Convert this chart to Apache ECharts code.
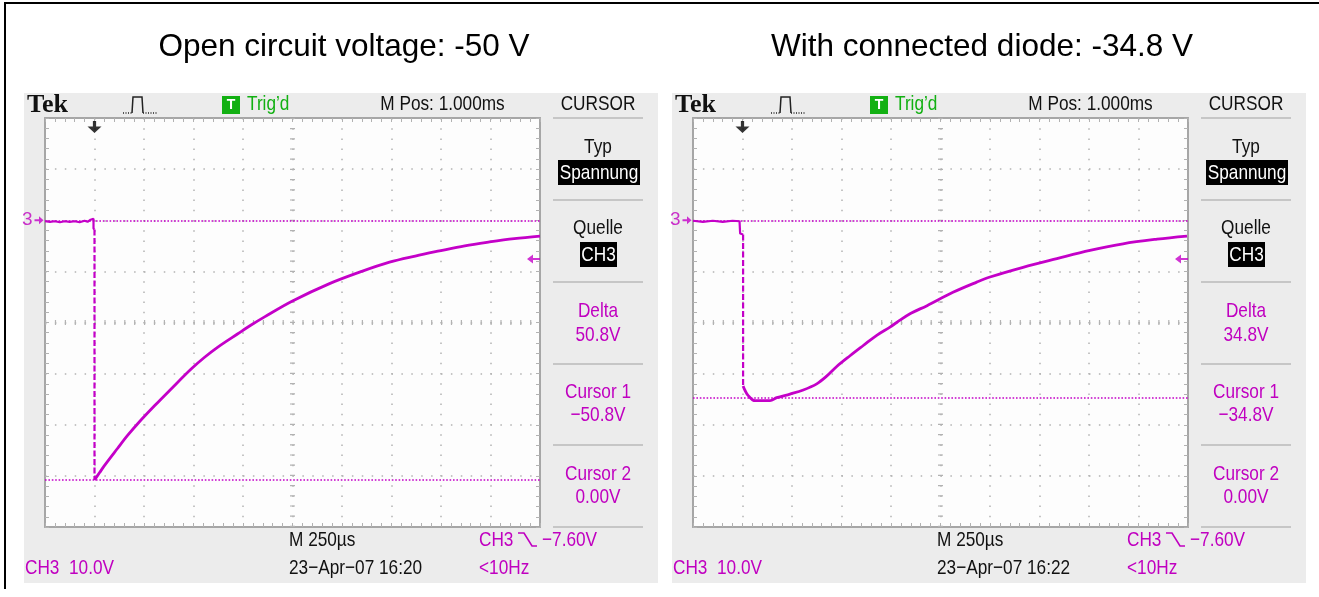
<!DOCTYPE html>
<html><head><meta charset="utf-8">
<script src="https://cdn.jsdelivr.net/npm/echarts/dist/echarts.min.js"></script>
<style>html,body{margin:0;padding:0;background:#fff}#c{width:1319px;height:597px}</style>
</head><body><div id="c"></div>
<script>
// ---------- data ----------
const titles = ['Open circuit voltage: -50 V', 'With connected diode: -34.8 V'];
const xMin = -250, xMax = 2250, xStep = 250;     // time, µs (M 250µs / div)
const yMin = -60, yMax = 20, yStep = 10;         // volts (CH3 10.0V / div)
const xCenter = 1000, yCenter = -20;
const groundLevel = 0, triggerTime = 0, triggerLevel = -7.6;

const leftPre = [[-250,-0.2],[-225,-0.3],[-200,-0.2],[-175,-0.4],[-150,-0.2],[-125,-0.3],[-100,-0.2],[-75,-0.4],[-50,-0.1],[-35,-0.3],[-20,0.1],[-10,0.3],[-5,0.3],[-5,-1.6],[0,-1.8]];
const leftDrop = [[0,-1.8],[0,-50.8]];
const leftDecay = [[0,-50.8],[25,-49.4],[50,-48.0],[117,-44.6],[167,-42.1],[218,-39.8],[303,-36.3],[387,-33.0],[488,-29.1],[556,-26.8],[623,-24.8],[724,-22.2],[791,-20.5],[859,-18.9],[1000,-15.8],[1187,-12.4],[1350,-10.0],[1490,-8.2],[1620,-7.0],[1742,-6.0],[1870,-5.0],[1995,-4.25],[2120,-3.6],[2250,-3.1]];
const leftCursors = [0, -50.8];

const rightPre = [[-250,-0.1],[-200,-0.3],[-150,-0.1],[-100,-0.3],[-50,-0.1],[-15,-0.2],[-12,-2.6],[3,-2.8]];
const rightDrop = [[3,-2.8],[3,-32.4]];
const rightDecay = [[3,-32.4],[13,-33.3],[29,-34.3],[63,-35.3],[139,-35.3],[173,-34.7],[240,-34.0],[307,-33.2],[375,-32.0],[425,-30.5],[476,-28.6],[543,-26.5],[610,-24.5],[678,-22.5],[745,-20.9],[779,-20.0],[846,-18.3],[932,-16.7],[1063,-14.1],[1183,-12.1],[1250,-11.1],[1417,-9.2],[1588,-7.5],[1755,-5.9],[1922,-4.6],[2094,-3.7],[2245,-3.1]];
const rightCursors = [0, -34.8];

const menuLabels = ['CURSOR', 'Typ', 'Spannung', 'Quelle', 'CH3', 'Delta', 'Cursor 1', 'Cursor 2'];
const leftReadout = ['50.8V', '\u221250.8V', '0.00V', '23\u2212Apr\u221207 16:20'];
const rightReadout = ['34.8V', '\u221234.8V', '0.00V', '23\u2212Apr\u221207 16:22'];
const statusTexts = ['Tek', 'Trig\u2019d', 'M Pos: 1.000ms', 'M 250\u00b5s', 'CH3', '\u22127.60V', '<10Hz', 'CH3  10.0V', '3'];

// ---------- styling ----------
const MAG = '#c400c8';
const TMAG = '#c000c0';
const GREEN = '#12b012';
const GRID = '#b2b2b2';
const SANS = '"Liberation Sans",Arial,sans-serif';
const NARROW_SX = 0.82;

const chart = echarts.init(document.getElementById('c'), null, {renderer: 'canvas'});

const grids = [0, 648].map(dx => ({left: 45 + dx, top: 118, width: 495, height: 409, show: true,
  backgroundColor: '#fdfdfd', borderWidth: 0, outerBoundsMode: 'none', containLabel: false}));

function axisCommon(split, period) {
  return {
    axisLine: {show: true, onZero: false, lineStyle: {color: '#a6a6a6', width: 2}},
    axisTick: {show: true, inside: true, length: 4, lineStyle: {color: GRID, width: 1}},
    minorTick: {show: true, splitNumber: 5, length: 4, lineStyle: {color: GRID, width: 1}},
    axisLabel: {show: false},
    splitLine: {show: split, lineStyle: {color: GRID, width: 1.5, type: [1.5, period - 1.5]}},
    minorSplitLine: {show: false}
  };
}
const xAxes = [], yAxes = [];
[0, 1].forEach(g => {
  ['bottom', 'top'].forEach((pos, i) => xAxes.push(Object.assign({gridIndex: g, type: 'value', position: pos,
    min: xMin, max: xMax, interval: xStep}, axisCommon(i === 0, 10.2))));
  ['left', 'right'].forEach((pos, i) => yAxes.push(Object.assign({gridIndex: g, type: 'value', position: pos,
    min: yMin, max: yMax, interval: yStep}, axisCommon(i === 0, 9.9))));
});

function panelSeries(g, pre, drop, decay, cursors) {
  const xi = g * 2, yi = g * 2;
  const base = {type: 'line', xAxisIndex: xi, yAxisIndex: yi, showSymbol: false, symbol: 'none',
    animation: false, silent: true, color: MAG};
  return [
    Object.assign({}, base, {data: pre, z: 5, lineStyle: {color: MAG, width: 2.2},
      markLine: {silent: true, symbol: ['none', 'none'], animation: false, label: {show: false},
        data: [
          {yAxis: yCenter, lineStyle: {color: GRID, width: 5, type: [1.2, 8.7]}},
          {xAxis: xCenter, lineStyle: {color: GRID, width: 5, type: [1.2, 9.0]}},
          ...cursors.map(v => ({yAxis: v, lineStyle: {color: MAG, width: 1.6, type: [1.6, 1.8]}}))
        ]}}),
    Object.assign({}, base, {data: drop, z: 5, lineStyle: {color: MAG, width: 2.2, type: [6, 2.5]}}),
    Object.assign({}, base, {data: decay, z: 6, smooth: 0.35, lineStyle: {color: MAG, width: 2.8}}),
    {type: 'scatter', xAxisIndex: xi, yAxisIndex: yi, clip: false, animation: false, silent: true, z: 10,
      data: [
        {value: [xMin, groundLevel], symbol: 'path://M0,3 L5,3 L5,0 L10,4 L5,8 L5,5 L0,5 Z', symbolSize: [9, 8],
          symbolOffset: [-6, 0], itemStyle: {color: MAG},
          label: {show: true, formatter: statusTexts[8], position: 'left', distance: 2, color: TMAG, fontSize: 19, fontFamily: SANS}},
        {value: [triggerTime, yMax], symbol: 'path://M5,0 L8,0 L8,5 L13,5 L6.5,11 L0,5 L5,5 Z', symbolSize: [14, 12],
          symbolOffset: [0, 9], itemStyle: {color: '#000'}},
        {value: [xMax, triggerLevel], symbol: 'path://M0,4.5 L6,0 L6,3.5 L13,3.5 L13,5.5 L6,5.5 L6,9 Z', symbolSize: [13, 9],
          symbolOffset: [-6.5, 0], itemStyle: {color: MAG}}
      ]}
  ];
}

function txt(x, y, text, opts) {
  const o = Object.assign({fontSize: 21, fontFamily: SANS, fill: '#111', align: 'center', sx: NARROW_SX}, opts || {});
  return {type: 'text', x: x, y: y, z: 20, silent: true, scaleX: o.sx, scaleY: 1,
    style: {text: text, fontSize: o.fontSize, fontFamily: o.fontFamily, fontWeight: o.fontWeight || 'normal',
      fill: o.fill, align: o.align, textAlign: o.align, verticalAlign: 'middle', textVerticalAlign: 'middle'}};
}
function line(points, color, width, dash) {
  return {type: 'polyline', z: 20, silent: true, shape: {points: points},
    style: {stroke: color, lineWidth: width, fill: null, lineDash: dash || null}};
}

function panelGraphics(dx, readout) {
  const g = [];
  g.push({type: 'rect', z: -10, silent: true, shape: {x: 24 + dx, y: 93, width: 634, height: 490}, style: {fill: '#ececec'}});
  g.push(txt(27 + dx, 105, statusTexts[0], {fontFamily: '"Liberation Serif","DejaVu Serif",serif', fontWeight: 'bold', fontSize: 26, align: 'left', fill: '#111', sx: 1}));
  // acquisition icon
  g.push(line([[123 + dx, 113], [132 + dx, 113]], '#222', 1.3, [1, 1.5]));
  g.push(line([[132 + dx, 113], [133 + dx, 97], [142 + dx, 97], [143 + dx, 113]], '#222', 1.5));
  g.push(line([[143 + dx, 113], [158 + dx, 113]], '#222', 1.3, [1, 1.5]));
  // trigger status
  g.push({type: 'rect', z: 20, silent: true, shape: {x: 222 + dx, y: 96, width: 18, height: 18}, style: {fill: GREEN}});
  g.push(txt(231 + dx, 105.5, 'T', {fill: '#fff', fontWeight: 'bold', fontSize: 14, sx: 1}));
  g.push(txt(247 + dx, 104, statusTexts[1], {fill: GREEN, align: 'left'}));
  g.push(txt(442.5 + dx, 104, statusTexts[2]));
  // cursor menu
  g.push(txt(598 + dx, 104, menuLabels[0]));
  [118, 200, 282, 364, 445, 527].forEach(y => g.push(line([[553 + dx, y], [643 + dx, y]], '#c6c6c6', 2)));
  g.push(txt(598 + dx, 147, menuLabels[1]));
  g.push({type: 'rect', z: 19, silent: true, shape: {x: 558 + dx, y: 160, width: 82, height: 25}, style: {fill: '#000'}});
  g.push(txt(599 + dx, 173, menuLabels[2], {fill: '#fff'}));
  g.push(txt(598 + dx, 228, menuLabels[3]));
  g.push({type: 'rect', z: 19, silent: true, shape: {x: 580 + dx, y: 242, width: 37, height: 25}, style: {fill: '#000'}});
  g.push(txt(598.5 + dx, 255, menuLabels[4], {fill: '#fff'}));
  g.push(txt(598 + dx, 311, menuLabels[5], {fill: TMAG}));
  g.push(txt(598 + dx, 335.5, readout[0], {fill: TMAG}));
  g.push(txt(598 + dx, 392.5, menuLabels[6], {fill: TMAG}));
  g.push(txt(598 + dx, 415.5, readout[1], {fill: TMAG}));
  g.push(txt(598 + dx, 474, menuLabels[7], {fill: TMAG}));
  g.push(txt(598 + dx, 497.5, readout[2], {fill: TMAG}));
  // bottom status line
  g.push(txt(289 + dx, 540, statusTexts[3], {align: 'left'}));
  g.push(txt(289 + dx, 568, readout[3], {align: 'left'}));
  g.push(txt(479 + dx, 540, statusTexts[4], {fill: TMAG, align: 'left'}));
  g.push(line([[518 + dx, 533], [524 + dx, 533], [532 + dx, 546], [537 + dx, 546]], TMAG, 1.6));
  g.push(txt(542 + dx, 540, statusTexts[5], {fill: TMAG, align: 'left'}));
  g.push(txt(479 + dx, 568, statusTexts[6], {fill: TMAG, align: 'left'}));
  g.push(txt(25 + dx, 568, statusTexts[7], {fill: TMAG, align: 'left'}));
  return g;
}

const graphics = [].concat(
  [line([[5, 589], [5, 3], [1319, 3]], '#000', 2)],
  [txt(344, 47, titles[0], {fontSize: 31.5, fill: '#000', sx: 1})],
  [txt(982, 47, titles[1], {fontSize: 31.5, fill: '#000', sx: 1})],
  panelGraphics(0, leftReadout),
  panelGraphics(648, rightReadout)
);

chart.setOption({
  animation: false,
  backgroundColor: '#ffffff',
  grid: grids,
  xAxis: xAxes,
  yAxis: yAxes,
  graphic: {elements: graphics},
  series: [].concat(
    panelSeries(0, leftPre, leftDrop, leftDecay, leftCursors),
    panelSeries(1, rightPre, rightDrop, rightDecay, rightCursors)
  )
});
</script></body></html>
